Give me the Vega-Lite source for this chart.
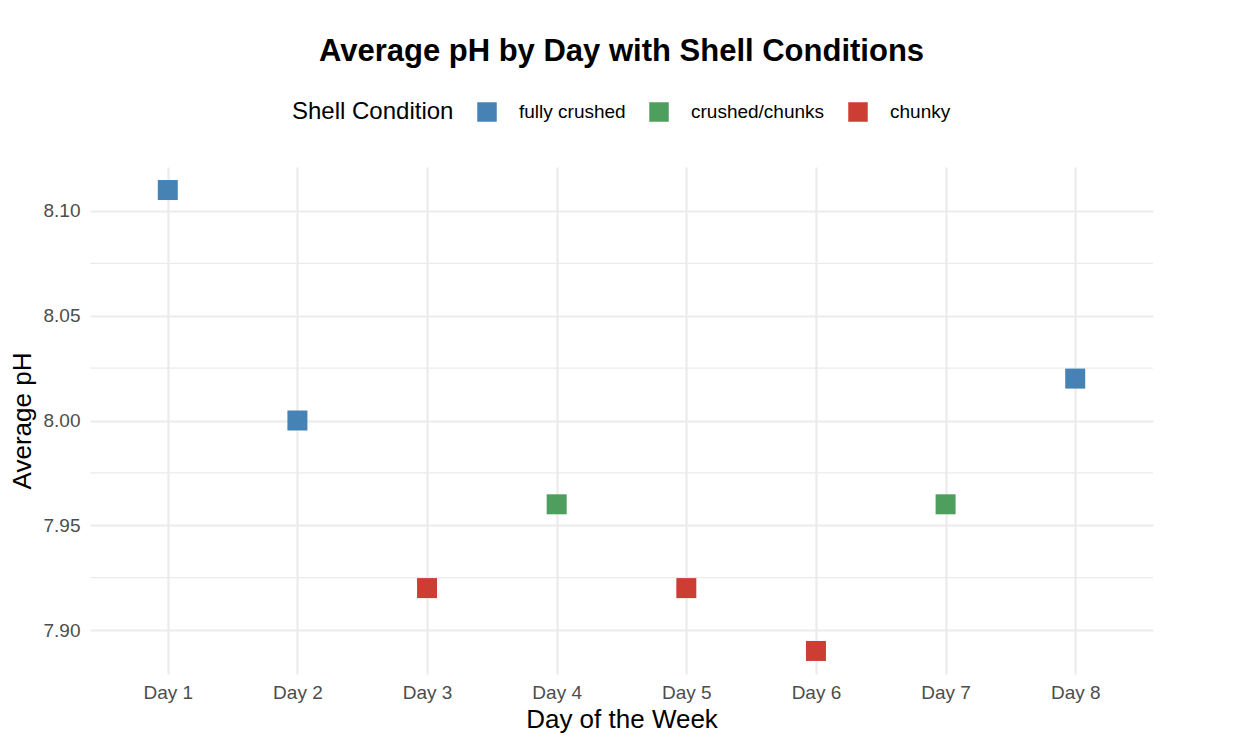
{
  "$schema": "https://vega.github.io/schema/vega-lite/v6.json",
  "width": 1063,
  "height": 507,
  "autosize": {"type": "none"},
  "padding": {"left": 90, "top": 167, "right": 80, "bottom": 61},
  "background": "white",
  "title": {
    "text": "Average pH by Day with Shell Conditions",
    "font": "Liberation Sans",
    "fontSize": 31,
    "fontWeight": "bold",
    "color": "black",
    "anchor": "middle",
    "offset": 34
  },
  "data": {
    "values": [
      {"day": "Day 1", "ph": 8.11, "cond": "fully crushed"},
      {"day": "Day 2", "ph": 8.00, "cond": "fully crushed"},
      {"day": "Day 3", "ph": 7.92, "cond": "chunky"},
      {"day": "Day 4", "ph": 7.96, "cond": "crushed/chunks"},
      {"day": "Day 5", "ph": 7.92, "cond": "chunky"},
      {"day": "Day 6", "ph": 7.89, "cond": "chunky"},
      {"day": "Day 7", "ph": 7.96, "cond": "crushed/chunks"},
      {"day": "Day 8", "ph": 8.02, "cond": "fully crushed"}
    ]
  },
  "layer": [
    {
      "data": {"values": [{"v": 7.925}, {"v": 7.975}, {"v": 8.025}, {"v": 8.075}]},
      "mark": {"type": "rule", "color": "#EBEBEB", "strokeWidth": 1.2},
      "encoding": {"y": {"field": "v", "type": "quantitative"}}
    },
    {
      "mark": {"type": "square", "size": 400, "opacity": 1, "filled": true},
      "encoding": {
        "x": {
          "field": "day",
          "type": "ordinal",
          "title": "Day of the Week",
          "scale": {"type": "point", "padding": 0.6},
          "axis": {
            "labelAngle": 0,
            "grid": true,
            "gridColor": "#EBEBEB",
            "gridWidth": 2.2,
            "domain": false,
            "ticks": false,
            "labelFont": "Liberation Sans",
            "labelFontSize": 19,
            "labelColor": "#4D4D4D",
            "labelPadding": 9,
            "titleFont": "Liberation Sans",
            "titleFontSize": 26,
            "titleFontWeight": "normal",
            "titleColor": "black",
            "titlePadding": 4
          }
        },
        "y": {
          "field": "ph",
          "type": "quantitative",
          "title": "Average pH",
          "scale": {"domain": [7.879, 8.121], "nice": false, "zero": false},
          "axis": {
            "values": [7.9, 7.95, 8.0, 8.05, 8.1],
            "format": ".2f",
            "grid": true,
            "gridColor": "#EBEBEB",
            "gridWidth": 2.2,
            "domain": false,
            "ticks": false,
            "labelFont": "Liberation Sans",
            "labelFontSize": 19,
            "labelColor": "#4D4D4D",
            "labelPadding": 10,
            "titleFont": "Liberation Sans",
            "titleFontSize": 26,
            "titleFontWeight": "normal",
            "titleColor": "black",
            "titlePadding": 8
          }
        },
        "color": {
          "field": "cond",
          "type": "nominal",
          "title": "Shell Condition",
          "scale": {
            "domain": ["fully crushed", "crushed/chunks", "chunky"],
            "range": ["#4682B4", "#4E9F5E", "#CC3D33"]
          },
          "legend": {
            "orient": "none",
            "direction": "horizontal",
            "legendX": 202,
            "legendY": -65,
            "titleOrient": "left",
            "titleFont": "Liberation Sans",
            "titleFontSize": 24,
            "titleFontWeight": "normal",
            "titleColor": "black",
            "titlePadding": 23,
            "titleBaseline": "middle",
            "labelFont": "Liberation Sans",
            "labelFontSize": 19,
            "labelColor": "black",
            "labelOffset": 22,
            "columnPadding": 23,
            "symbolType": "square",
            "symbolSize": 380,
            "symbolOpacity": 1,
            "symbolStrokeWidth": 0
          }
        }
      }
    }
  ],
  "config": {"view": {"stroke": null}}
}
